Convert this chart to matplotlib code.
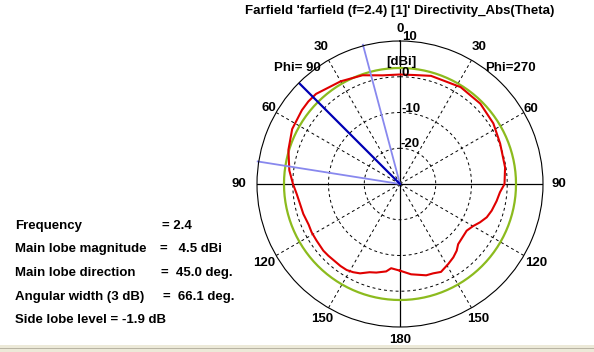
import numpy as np
import matplotlib
matplotlib.use("Agg")
import matplotlib.pyplot as plt
from matplotlib.patches import Rectangle

# Farfield directivity cut (dBi); positive angle = Phi=90 side (left), negative = Phi=270 side (right)
theta_deg = [-180, -173, -164, -159.6, -155, -148.9, -144, -139.6, -136, -125, -120, -115.6,
             -111, -106.2, -100, -94.7, -90, -81, -68, -57, -45, -32, -16, -8, 0,
             9, 19, 30, 43, 48, 53, 63, 73, 83, 90, 95.5, 101, 107.2, 114, 118.7, 124,
             131, 135, 144, 148.2, 152, 155.9, 161, 165, 171, 174, 180]
directivity = [-5.75, -4.55, -3.43, -3.34, -2.87, -3.87, -4.63, -5.52, -6.59, -7.23, -6.42, -5.19,
               -4.01, -3.29, -2.56, -1.94, -0.77, -0.24, 0.21, 1.13, 1.78, 1.97, 1.47, 0.77, 0.63,
               0.77, 2.17, 3.17, 4.45, 4.5, 4.35, 3.85, 2.64, 1.19, -0.07, -0.97, -1.47, -1.69, -2.03, -1.83, -1.80,
               -1.58, -1.64, -1.66, -1.69, -2.06, -2.62, -3.90, -4.35, -5.24, -6.31, -5.75]
green_level = 2.45          # reference circle level (dB)
main_dir = 45.0             # main lobe direction
beam_edges = [14.9, 81.0]   # 3 dB beam edges

r_min, r_max = -30, 10
ring_vals = [-20, -10, 0]
ring_labels = ["-20", "-10", "0", "10"]
ring_label_r = [-20, -10, 0, 10]

info_names = ["Frequency", "Main lobe magnitude", "Main lobe direction",
              "Angular width (3 dB)", "Side lobe level ="]
info_values = ["= 2.4", "=   4.5 dBi", "=  45.0 deg.", "=  66.1 deg.", "-1.9 dB"]

W, H = 594, 352
fig = plt.figure(figsize=(W / 100, H / 100), dpi=100, facecolor="white")

# window bottom strip
fig.patches.append(Rectangle((0, 0), 1, 7 / H, transform=fig.transFigure,
                             facecolor="#ece9d8", edgecolor="none"))
fig.patches.append(Rectangle((0, 3 / H), 1, 1 / H, transform=fig.transFigure,
                             facecolor="#b8b4a4", edgecolor="none"))

cx, cy, R = 400, 184, 143
ax = fig.add_axes([(cx - R) / W, (H - cy - R) / H, 2 * R / W, 2 * R / H], projection="polar")
ax.set_theta_zero_location("N")
ax.set_theta_direction(1)
ax.set_ylim(r_min, r_max)
ax.grid(False)
ax.set_xticks([])
ax.set_yticks([])
ax.spines["polar"].set_linewidth(0.8)
ax.spines["polar"].set_color("black")

full = np.radians(np.arange(0, 361, 1))
for rv in ring_vals:
    ax.plot(full, np.full_like(full, rv), color="black", lw=0.7, ls=(0, (3, 3)))

for a in [30, 60, 120, 150]:
    for s in (1, -1):
        ax.plot([np.radians(s * a)] * 2, [r_min, r_max], color="black", lw=0.7, ls=(0, (3, 3)))
for a in [0, 90, 180, 270]:
    ax.plot([np.radians(a)] * 2, [r_min, r_max], color="black", lw=0.9)

# curves
ax.plot(full, np.full_like(full, green_level), color="#8cbb1e", lw=1.6)
ax.plot(np.radians(theta_deg), directivity, color="#e00000", lw=1.5)
for b in beam_edges:
    ax.plot([np.radians(b)] * 2, [r_min, r_max + 0.3], color="#8888ee", lw=1.3, clip_on=False)
ax.plot([np.radians(main_dir)] * 2, [r_min, r_max], color="#0000b4", lw=1.6)

bold = dict(fontsize=9.5, fontweight="bold", family="Liberation Sans", color="black")

# radial labels
for lab, rv in zip(ring_labels, ring_label_r):
    ax.text(np.radians(-1.0), rv + 1.1, lab, ha="left", va="center", clip_on=False, **bold)
ax.text(np.radians(-0.5), 4.2, "[dBi]", ha="center", va="center", **bold)

# angle labels (position in pixel radius from centre)
ang_labels = [(0, "0", 155), (30, "30", 158), (-30, "30", 158), (60, "60", 151), (-60, "60", 151),
              (90, "90", 161), (-90, "90", 159), (120, "120", 157), (-120, "120", 157),
              (150, "150", 156), (-150, "150", 156), (180, "180", 156)]
for a, lab, rpx in ang_labels:
    ax.text(np.radians(a), rpx / R * (r_max - r_min) + r_min, lab, ha="center", va="center",
            clip_on=False, **bold)

fig.text(297 / W, 1 - 68 / H, "Phi= 90", ha="center", va="center", **bold)
fig.text(510 / W, 1 - 68 / H, "Phi=270", ha="center", va="center", **bold)

fig.suptitle("Farfield 'farfield (f=2.4) [1]' Directivity_Abs(Theta)", x=400 / W, y=1 - 11 / H,
             ha="center", va="center", **bold)

# info block
ys = [226, 249, 273, 297, 320]
val_x = [162, 160, 161, 163, 122]
for name, val, y, vx in zip(info_names, info_values, ys, val_x):
    fig.text(15 / W, 1 - y / H, name, ha="left", va="center", **bold)
    fig.text(vx / W, 1 - y / H, val, ha="left", va="center", **bold)

fig.savefig("out.png", dpi=100, facecolor="white")
